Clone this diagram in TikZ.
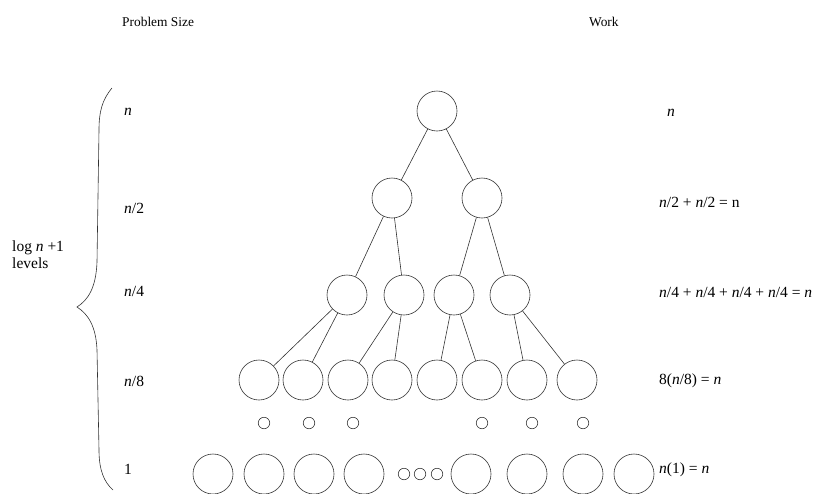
\documentclass[tikz,border=0pt]{standalone}
\usepackage{fontspec}
\setmainfont{Liberation Serif}
\begin{document}
\begin{tikzpicture}[x=1pt, y=-1pt,
    big/.style={draw=black!80, line width=0.6pt, circle, minimum size=40pt, inner sep=0pt},
    tiny/.style={draw=black!80, line width=0.6pt, circle, minimum size=11.5pt, inner sep=0pt},
    head/.style={anchor=west, inner sep=0pt, font=\fontsize{13.4}{16}\selectfont},
    lbl/.style={anchor=west, inner sep=0pt, font=\fontsize{15.5}{18}\selectfont},
    edge/.style={draw=black!80, line width=0.6pt}
]
  \useasboundingbox (0,0) rectangle (816,493);

  % Column headers
  \node[head] (hsize) at (122, 22) {Problem Size};
  \node[head] (hwork) at (589, 22) {Work};

  % Tree levels
  \node[big] (root) at (437, 111) {};

  \node[big] (l1a) at (392, 198) {};
  \node[big] (l1b) at (482, 198) {};

  \node[big] (l2a) at (347, 295) {};
  \node[big] (l2b) at (404, 295) {};
  \node[big] (l2c) at (454, 295) {};
  \node[big] (l2d) at (510, 295) {};

  \foreach \x [count=\i] in {259, 303, 348, 392, 437, 482, 527, 577}
    \node[big] (l3\i) at (\x, 380) {};

  % Edges
  \draw[edge] (root) -- (l1a);
  \draw[edge] (root) -- (l1b);
  \draw[edge] (l1a) -- (l2a);
  \draw[edge] (l1a) -- (l2b);
  \draw[edge] (l1b) -- (l2c);
  \draw[edge] (l1b) -- (l2d);
  \draw[edge] (l2a) -- (l31);
  \draw[edge] (l2a) -- (l32);
  \draw[edge] (l2b) -- (l33);
  \draw[edge] (l2b) -- (l34);
  \draw[edge] (l2c) -- (l35);
  \draw[edge] (l2c) -- (l36);
  \draw[edge] (l2d) -- (l37);
  \draw[edge] (l2d) -- (l38);

  % dots
  \foreach \x [count=\i] in {264, 309, 353, 482, 532, 583}
    \node[tiny] (dot\i) at (\x, 423) {};

  % Leaves
  \foreach \x [count=\i] in {213, 264, 314, 364, 471, 527, 583, 634}
    \node[big] (leaf\i) at (\x, 474) {};
  \foreach \x [count=\i] in {404, 420, 437}
    \node[tiny] (ldot\i) at (\x, 474) {};

  % Problem sizes
  \node[lbl] (s0) at (124, 112) {\textit{n}};
  \node[lbl] (s1) at (124, 208) {\textit{n}/2};
  \node[lbl] (s2) at (124, 291) {\textit{n}/4};
  \node[lbl] (s3) at (124, 381) {\textit{n}/8};
  \node[lbl] (s4) at (124, 469) {1};

  % Work per level
  \node[lbl] (w0) at (667, 113) {\textit{n}};
  \node[lbl] (w1) at (659, 202) {\textit{n}/2 + \textit{n}/2 = n};
  \node[lbl] (w2) at (659, 292) {\textit{n}/4 + \textit{n}/4 + \textit{n}/4 + \textit{n}/4 = \textit{n}};
  \node[lbl] (w3) at (659, 381) {8(\textit{n}/8) = \textit{n}};
  \node[lbl] (w4) at (659, 470) {\textit{n}(1) = \textit{n}};

  % Brace and levels
  \draw[edge] (112,88) .. controls (102,100) and (99,112) .. (99,130)
    -- (97,262) .. controls (96,288) and (88,300) .. (77,307)
    .. controls (88,314) and (96,326) .. (97,350)
    -- (99,450) .. controls (99,470) and (104,482) .. (113,490);
  \node[lbl, align=left, font=\fontsize{15.5}{17}\selectfont] (lev) at (12, 255) {log \textit{n} +1\\levels};
\end{tikzpicture}
\end{document}
